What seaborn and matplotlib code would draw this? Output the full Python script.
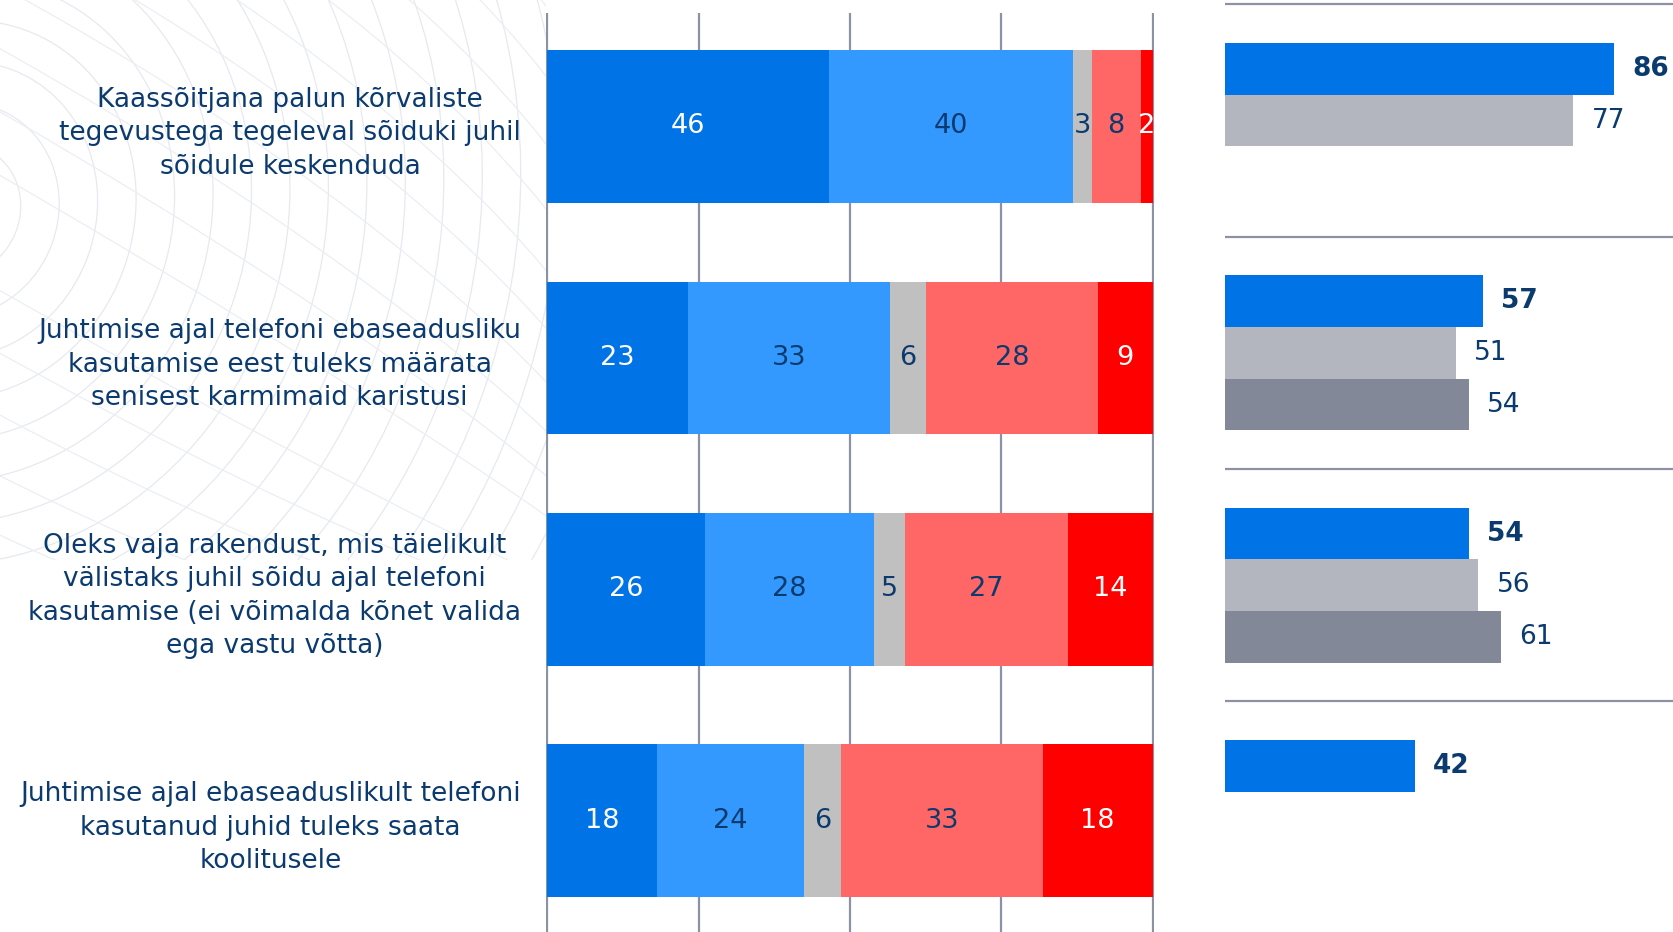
import numpy as np
import pandas as pd
import matplotlib
matplotlib.use("Agg")
import matplotlib.pyplot as plt
import seaborn as sns
from matplotlib.patches import Ellipse, Rectangle

# --- data -------------------------------------------------------------
statements = [
    "Kaassõitjana palun kõrvaliste\ntegevustega tegeleval sõiduki juhil\nsõidule keskenduda",
    "Juhtimise ajal telefoni ebaseadusliku\nkasutamise eest tuleks määrata\nsenisest karmimaid karistusi",
    "Oleks vaja rakendust, mis täielikult\nvälistaks juhil sõidu ajal telefoni\nkasutamise (ei võimalda kõnet valida\nega vastu võtta)",
    "Juhtimise ajal ebaseaduslikult telefoni\nkasutanud juhid tuleks saata\nkoolitusele",
]
seg_names = ["taiesti_nous", "pigem_nous", "ei_oska", "pigem_ei", "uldse_ei"]
taiesti_nous = [46, 23, 26, 18]
pigem_nous = [40, 33, 28, 24]
ei_oska = [3, 6, 5, 6]
pigem_ei = [8, 28, 27, 33]
uldse_ei = [2, 9, 14, 18]

waves = ["laine_1", "laine_2", "laine_3"]
agree_1 = [86, 57, 54, 42]
agree_2 = [77, 51, 56, None]
agree_3 = [None, 54, 61, None]

# --- styles -----------------------------------------------------------
seg_colors = ["#0073E6", "#3399FF", "#C0C0C0", "#FF6666", "#FF0000"]
seg_text = ["white", "#0B3A6E", "#0B3A6E", "#0B3A6E", "white"]
wave_colors = ["#0073E6", "#B3B6BE", "#838899"]
navy = "#0B3A6E"
line_gray = "#8C92A4"

sns.set_style("white")
plt.rcParams["font.family"] = ["DejaVu Sans"]

fig = plt.figure(figsize=(16.73, 9.32), dpi=100)
W, H = 1673, 932

# faint background pattern (top-left)
bg = fig.add_axes([0, 0, 1, 1], zorder=-5)
bg.set_xlim(0, W)
bg.set_ylim(H, 0)
bg.axis("off")
clip = Rectangle((0, 0), 546, 560, transform=bg.transData)
for r in range(60, 760, 38):
    e = Ellipse((-40, 210), 2 * r, 2 * r * 1.1, angle=20, fill=False,
                ec="#E6E9EF", lw=0.9)
    bg.add_patch(e)
    e.set_clip_path(clip)
for w in range(100, 1600, 110):
    e = Ellipse((-40, 210), w, 1600, angle=-60, fill=False, ec="#EBEEF2", lw=0.9)
    bg.add_patch(e)
    e.set_clip_path(clip)

# --- left: stacked bars -------------------------------------------------
seg_df = pd.DataFrame(dict(zip(seg_names,
                               [taiesti_nous, pigem_nous, ei_oska, pigem_ei, uldse_ei])))
shares = seg_df.div(seg_df.sum(axis=1), axis=0) * 100
cum = shares.cumsum(axis=1)
cum["statement"] = statements

ax = fig.add_axes([546 / W, 0, 608 / W, (H - 13) / H])
ax.patch.set_alpha(0)
for name, color in reversed(list(zip(seg_names, seg_colors))):
    sns.barplot(data=cum, x=name, y="statement", order=statements, color=color,
                saturation=1, width=0.66, orient="h", linewidth=0, ax=ax)

for i in range(len(statements)):
    for k, name in enumerate(seg_names):
        mid = cum.loc[i, name] - shares.loc[i, name] / 2
        ax.text(mid, i, str(seg_df.loc[i, name]), ha="center", va="center",
                fontsize=19.5, color=seg_text[k])

ax.set_xlim(-0.2, 100.2)
ax.set_ylim(3.48, -0.49)
ax.set_xticks([0, 25, 50, 75, 100])
ax.xaxis.grid(True, color=line_gray, lw=1.6)
ax.set_axisbelow(True)
ax.tick_params(axis="x", length=0, labelbottom=False)
ax.tick_params(axis="y", length=0, pad=18, labelsize=19, labelcolor=navy)
for lab in ax.get_yticklabels():
    lab.set_multialignment("center")
    lab.set_linespacing(1.37)
ax.set_xlabel("")
ax.set_ylabel("")
sns.despine(ax=ax, left=True, bottom=True)

# --- right: agreement by wave ------------------------------------------
rows = []
for vals, wave in zip([agree_1, agree_2, agree_3], waves):
    for st, v in zip(statements, vals):
        if v is not None:
            rows.append({"statement": st, "wave": wave, "value": v})
right_df = pd.DataFrame(rows)

ax2 = fig.add_axes([1225 / W, 0, 448 / W, 1])
ax2.patch.set_alpha(0)
sns.barplot(data=right_df, x="value", y="statement", hue="wave", order=statements,
            hue_order=waves, palette=wave_colors, saturation=1, width=0.667,
            orient="h", linewidth=0, legend=False, ax=ax2)
for k, cont in enumerate(ax2.containers):
    ax2.bar_label(cont, padding=13, fontsize=19,
                  fontweight="bold" if k == 0 else "normal", color=navy)
for y in [-0.5, 0.5, 1.5, 2.5]:
    ax2.axhline(y, color=line_gray, lw=1.6)
ax2.set_xlim(0, 99)
ax2.set_ylim(3.493, -0.519)
ax2.set_xticks([])
ax2.set_yticks([])
ax2.set_xlabel("")
ax2.set_ylabel("")
sns.despine(ax=ax2, left=True, bottom=True)

fig.savefig("out.png", dpi=100)
